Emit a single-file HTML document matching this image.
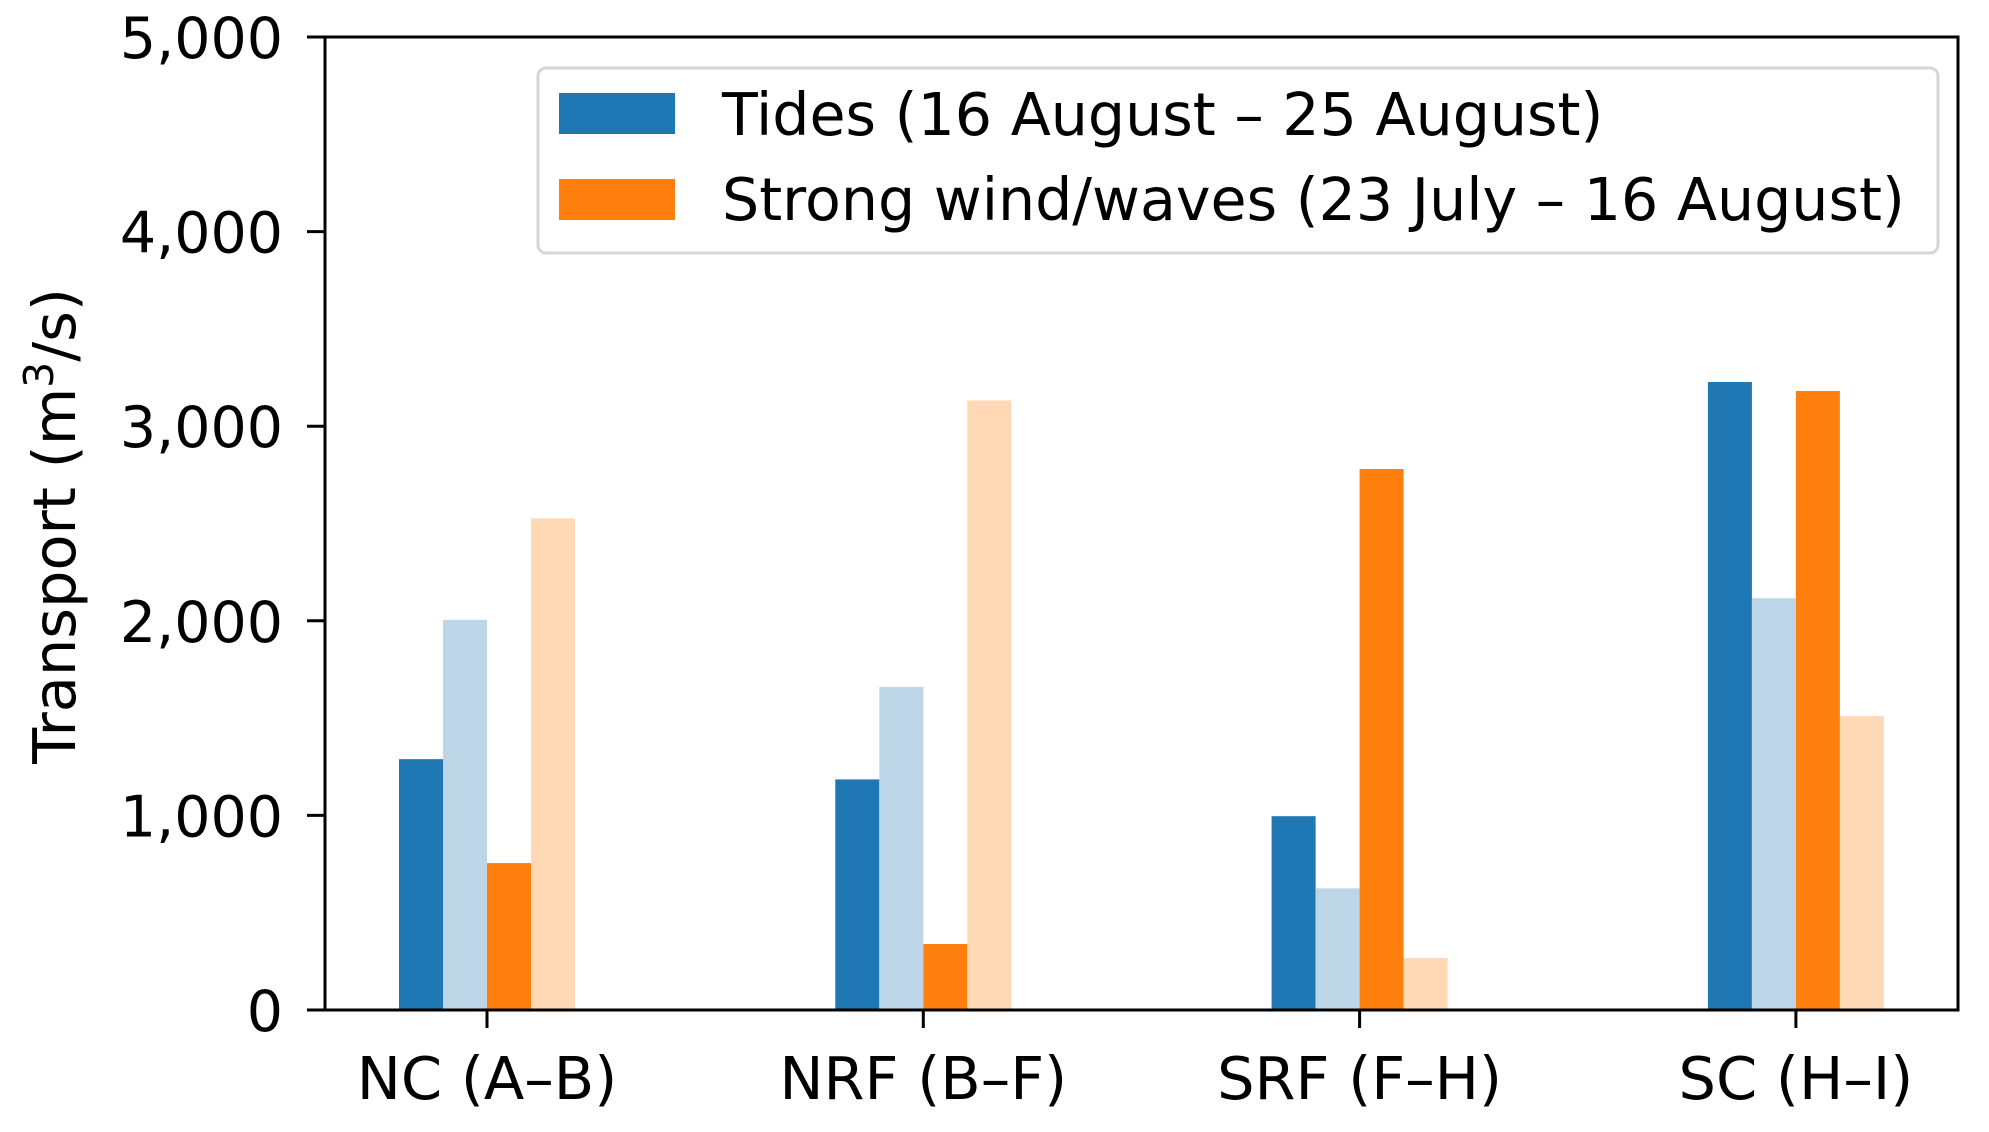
<!DOCTYPE html>
<html><head><meta charset="utf-8"><style>
html,body{margin:0;padding:0;background:#fff;}
svg{display:block;font-family:"DejaVu Sans","Liberation Sans",sans-serif;}
</style></head><body>
<svg id="chart" width="1989" height="1132" viewBox="0 0 1989 1132" xmlns="http://www.w3.org/2000/svg">
<g id="bars"></g>
<g id="yaxis"></g>
<g id="xaxis"></g>
<rect x="325" y="37" width="1633" height="973" fill="none" stroke="#000" stroke-width="3"/>
<text transform="translate(75,526) rotate(-90)" text-anchor="middle" font-size="59">Transport (m<tspan dy="-22" font-size="41">3</tspan><tspan dy="22">/s)</tspan></text>
<g>
<rect x="538" y="68" width="1400" height="185" rx="8" fill="#fff" stroke="#d6d6d6" stroke-width="3"/>
<rect x="559" y="93" width="116" height="41" fill="#1f77b4"/>
<text x="722" y="135" font-size="58.6">Tides (16 August – 25 August)</text>
<rect x="559" y="179" width="116" height="41" fill="#ff7f0e"/>
<text x="722" y="220" font-size="58.6">Strong wind/waves (23 July – 16 August)</text>
</g>
</svg>
<script>
const categories = ["NC (A–B)", "NRF (B–F)", "SRF (F–H)", "SC (H–I)"];
const tidesA = [1289, 1185, 996, 3227];
const tidesB = [2005, 1660, 625, 2116];
const windA = [755, 339, 2780, 3181];
const windB = [2526, 3132, 267, 1510];
const yTicks = [0, 1000, 2000, 3000, 4000, 5000];
const yTickLabels = ["0", "1,000", "2,000", "3,000", "4,000", "5,000"];

const NS = "http://www.w3.org/2000/svg";
const x0 = 325, x1 = 1958, yTop = 37, yBot = 1010, yMax = 5000;
const y = v => yBot - (v / yMax) * (yBot - yTop);
const catX = i => 487 + i * 436.3;
const barW = 44;
function mk(tag, attrs, parent) {
  const e = document.createElementNS(NS, tag);
  for (const k in attrs) e.setAttribute(k, attrs[k]);
  parent.appendChild(e);
  return e;
}
const series = [
  {vals: tidesA, color: "#1f77b4", name: "tides-a"},
  {vals: tidesB, color: "#bcd6e8", name: "tides-b"},
  {vals: windA, color: "#ff7f0e", name: "wind-a"},
  {vals: windB, color: "#ffd8b6", name: "wind-b"}
];
const bars = document.getElementById("bars");
categories.forEach((c, i) => {
  series.forEach((s, j) => {
    const bx = catX(i) - 2 * barW + j * barW;
    const r = mk("rect", {x: bx, y: y(s.vals[i]), width: barW, height: yBot - y(s.vals[i]), fill: s.color}, bars);
    
    
  });
});
const ya = document.getElementById("yaxis");
yTicks.forEach((t, i) => {
  const l = mk("line", {x1: x0 - 18, x2: x0, y1: y(t), y2: y(t), stroke: "#000", "stroke-width": 3}, ya);
  
  
  const tx = mk("text", {x: 283, y: y(t) + 21, "text-anchor": "end", "font-size": 57}, ya);
  
  
  tx.textContent = yTickLabels[i];
});
const xa = document.getElementById("xaxis");
categories.forEach((c, i) => {
  const l = mk("line", {x1: catX(i), x2: catX(i), y1: yBot, y2: yBot + 18, stroke: "#000", "stroke-width": 3}, xa);
  
  
  const tx = mk("text", {x: catX(i), y: 1099, "text-anchor": "middle", "font-size": 59}, xa);
  
  
  tx.textContent = c;
});
</script>
</body></html>
